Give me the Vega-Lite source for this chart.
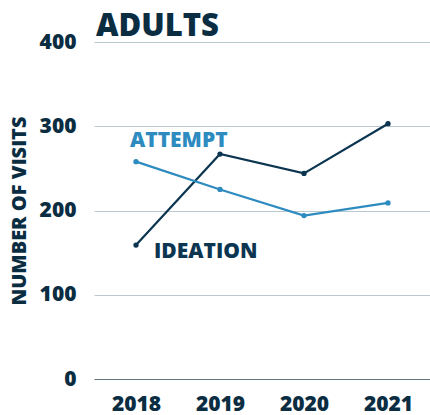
{
  "$schema": "https://vega.github.io/schema/vega-lite/v6.json",
  "width": 336,
  "height": 337,
  "autosize": {"type": "none"},
  "padding": {"left": 94, "top": 42, "right": 0, "bottom": 36},
  "background": "white",
  "title": {
    "text": "ADULTS",
    "anchor": "start",
    "frame": "group",
    "font": "Open Sans",
    "fontWeight": 800,
    "fontSize": 31,
    "color": "#0b2d42",
    "offset": -12,
    "dx": 2
  },
  "config": {
    "view": {"stroke": null},
    "axis": {
      "labelFont": "Open Sans",
      "labelFontWeight": 800,
      "labelFontSize": 21,
      "labelColor": "#0b2d42",
      "titleFont": "Open Sans",
      "titleFontWeight": 800,
      "titleColor": "#0b2d42"
    }
  },
  "datasets": {
    "lines": [
      {"year": "2018", "series": "IDEATION", "visits": 159},
      {"year": "2019", "series": "IDEATION", "visits": 267},
      {"year": "2020", "series": "IDEATION", "visits": 244},
      {"year": "2021", "series": "IDEATION", "visits": 303},
      {"year": "2018", "series": "ATTEMPT", "visits": 258},
      {"year": "2019", "series": "ATTEMPT", "visits": 225},
      {"year": "2020", "series": "ATTEMPT", "visits": 194},
      {"year": "2021", "series": "ATTEMPT", "visits": 209}
    ],
    "labels": [
      {"year": "2018", "series": "ATTEMPT", "visits": 282},
      {"year": "2018", "series": "IDEATION", "visits": 151}
    ]
  },
  "layer": [
    {
      "data": {"name": "lines"},
      "mark": {"type": "line", "strokeWidth": 2.2, "point": {"size": 28, "filled": true}},
      "encoding": {
        "x": {
          "field": "year", "type": "ordinal",
          "scale": {"type": "point", "padding": 0.5},
          "axis": {"title": null, "labelAngle": 0, "ticks": false, "domainColor": "#5f7380", "domainWidth": 1.2, "labelPadding": 14, "grid": false}
        },
        "y": {
          "field": "visits", "type": "quantitative",
          "scale": {"domain": [0, 400]},
          "axis": {"title": "NUMBER OF VISITS", "titleFontSize": 20, "titlePadding": 10, "values": [0, 100, 200, 300, 400], "ticks": false, "domain": false, "labelPadding": 18, "gridColor": "#b9c7cf", "gridWidth": 1}
        },
        "color": {
          "field": "series", "type": "nominal",
          "scale": {"domain": ["IDEATION", "ATTEMPT"], "range": ["#0b3550", "#2e8bc0"]},
          "legend": null
        }
      }
    },
    {
      "data": {"name": "labels"},
      "transform": [{"filter": "datum.series === 'ATTEMPT'"}],
      "mark": {"type": "text", "align": "left", "baseline": "middle", "dx": -6, "font": "Open Sans", "fontWeight": 800, "fontSize": 21},
      "encoding": {
        "x": {"field": "year", "type": "ordinal"},
        "y": {"field": "visits", "type": "quantitative"},
        "text": {"field": "series"},
        "color": {"field": "series", "type": "nominal", "legend": null}
      }
    },
    {
      "data": {"name": "labels"},
      "transform": [{"filter": "datum.series === 'IDEATION'"}],
      "mark": {"type": "text", "align": "left", "baseline": "middle", "dx": 18, "font": "Open Sans", "fontWeight": 800, "fontSize": 21},
      "encoding": {
        "x": {"field": "year", "type": "ordinal"},
        "y": {"field": "visits", "type": "quantitative"},
        "text": {"field": "series"},
        "color": {"field": "series", "type": "nominal", "legend": null}
      }
    }
  ]
}
